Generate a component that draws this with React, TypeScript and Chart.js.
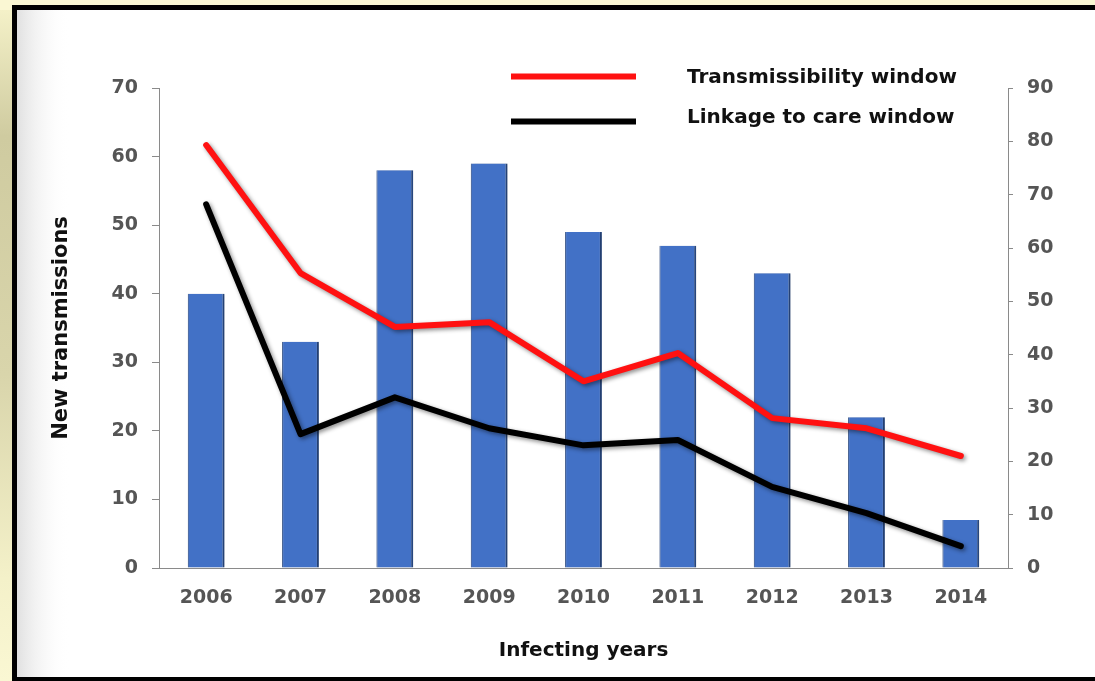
import React, { useEffect, useRef } from 'react';
import { Chart, registerables } from 'chart.js';

Chart.register(...registerables);

// ---- Data ----
const years = ['2006', '2007', '2008', '2009', '2010', '2011', '2012', '2013', '2014'];
const newTransmissions = [40, 33, 58, 59, 49, 47, 43, 22, 7];
const transmissibilityWindow = [79.3, 55.3, 45.2, 46.1, 35, 40.3, 28.1, 26.2, 21];
const linkageToCareWindow = [68.2, 25.1, 32, 26.2, 23, 24, 15.2, 10.3, 4.1];
const leftAxisMax = 70;
const rightAxisMax = 90;
const tickStep = 10;
const seriesLabels = ['Transmissibility window', 'Linkage to care window', 'New transmissions'];
const xTitle = 'Infecting years';
const yTitle = 'New transmissions';

const FONT = "'DejaVu Sans', 'Liberation Sans', Arial, sans-serif";
const TICK_COLOR = '#555555';
const AXIS_COLOR = '#8a8a8a';

const backgroundPlugin = {
  id: 'pageBackground',
  beforeDraw(chart: any) {
    const { ctx, width, height } = chart;
    ctx.save();
    ctx.fillStyle = '#faf7d3';
    ctx.fillRect(0, 0, width, height);
    const g = ctx.createLinearGradient(0, 0, 0, height);
    g.addColorStop(0, '#f7f4cb');
    g.addColorStop(0.2, '#cfcba0');
    g.addColorStop(0.55, '#d9d5ab');
    g.addColorStop(0.85, '#f4f1c9');
    g.addColorStop(1, '#faf7d3');
    ctx.fillStyle = g;
    ctx.fillRect(0, 10, 12, height - 10);
    // black frame
    ctx.fillStyle = '#000';
    ctx.fillRect(12, 5, width - 12, 5);
    ctx.fillRect(12, 5, 5, height - 5);
    ctx.fillRect(12, height - 4, width - 12, 4);
    // white panel
    ctx.fillStyle = '#fff';
    ctx.fillRect(17, 10, width - 17, height - 14);
    const gx = ctx.createLinearGradient(17, 0, 70, 0);
    gx.addColorStop(0, 'rgba(200,200,200,0.55)');
    gx.addColorStop(1, 'rgba(255,255,255,0)');
    ctx.fillStyle = gx;
    ctx.fillRect(17, 10, 53, height - 14);
    ctx.restore();
  },
};

const shadowPlugin = {
  id: 'lineShadow',
  beforeDatasetDraw(chart: any, args: any) {
    const ctx = chart.ctx;
    ctx.save();
    if (args.meta.type === 'line') {
      ctx.shadowColor = 'rgba(0,0,0,0.45)';
      ctx.shadowBlur = 4;
      ctx.shadowOffsetX = 2;
      ctx.shadowOffsetY = 2;
    } else {
      ctx.shadowColor = 'rgba(0,0,0,0.25)';
      ctx.shadowBlur = 3;
      ctx.shadowOffsetX = 1;
      ctx.shadowOffsetY = 0;
    }
  },
  afterDatasetDraw(chart: any) {
    chart.ctx.restore();
  },
};

const legendPlugin = {
  id: 'customLegend',
  afterDraw(chart: any) {
    const { ctx } = chart;
    const entries = chart.data.datasets.filter((d: any) => d.type === 'line');
    ctx.save();
    entries.forEach((ds: any, i: number) => {
      const y = i === 0 ? 76.5 : 121.5;
      const ty = i === 0 ? 78 : 118;
      ctx.strokeStyle = ds.borderColor;
      ctx.lineWidth = 6;
      ctx.lineCap = 'butt';
      ctx.beginPath();
      ctx.moveTo(511, y);
      ctx.lineTo(636, y);
      ctx.stroke();
      ctx.fillStyle = '#111';
      ctx.font = `bold 20px ${FONT}`;
      ctx.textBaseline = 'middle';
      ctx.textAlign = 'left';
      ctx.fillText(ds.label, 687, ty);
    });
    ctx.restore();
  },
};

export default function App() {
  const canvasRef = useRef<HTMLCanvasElement | null>(null);

  useEffect(() => {
    const canvas = canvasRef.current;
    if (!canvas) return;
    const chart = new Chart(canvas, {
      type: 'bar',
      data: {
        labels: years,
        datasets: [
          {
            type: 'line',
            label: seriesLabels[0],
            data: transmissibilityWindow,
            yAxisID: 'y2',
            borderColor: '#ff1111',
            backgroundColor: '#ff1111',
            borderWidth: 6,
            pointRadius: 0,
            tension: 0,
            borderCapStyle: 'round',
            borderJoinStyle: 'round',
            clip: false,
            order: 0,
          } as any,
          {
            type: 'line',
            label: seriesLabels[1],
            data: linkageToCareWindow,
            yAxisID: 'y2',
            borderColor: '#000000',
            backgroundColor: '#000000',
            borderWidth: 6,
            pointRadius: 0,
            tension: 0,
            borderCapStyle: 'round',
            borderJoinStyle: 'round',
            clip: false,
            order: 0,
          } as any,
          {
            type: 'bar',
            label: seriesLabels[2],
            data: newTransmissions,
            yAxisID: 'y',
            backgroundColor: '#4271c6',
            borderColor: '#2a4b86',
            borderWidth: { left: 1, right: 2, top: 0, bottom: 0 },
            borderSkipped: false,
            categoryPercentage: 1,
            barPercentage: 0.39,
            order: 1,
          } as any,
        ],
      },
      options: {
        responsive: false,
        animation: false,
        devicePixelRatio: 1,
        layout: { padding: { top: 88, left: 0, right: 0, bottom: 0 } },
        plugins: {
          legend: { display: false },
          tooltip: { enabled: false },
          title: { display: false },
        },
        scales: {
          x: {
            offset: true,
            grid: { display: false, drawTicks: false },
            border: { display: true, color: AXIS_COLOR, width: 1 },
            ticks: {
              color: TICK_COLOR,
              font: { family: FONT, size: 19, weight: 'bold' },
              padding: 19,
              maxRotation: 0,
            },
            title: {
              display: true,
              text: xTitle,
              color: '#111',
              font: { family: FONT, size: 20, weight: 'bold' },
              padding: { top: 0, bottom: 18 },
            },
            afterFit(scale: any) {
              scale.height = 113;
            },
          },
          y: {
            position: 'left',
            min: 0,
            max: leftAxisMax,
            grid: { drawOnChartArea: false, drawTicks: true, tickLength: 7, color: AXIS_COLOR },
            border: { display: true, color: AXIS_COLOR, width: 1 },
            ticks: {
              stepSize: tickStep,
              color: TICK_COLOR,
              font: { family: FONT, size: 19, weight: 'bold' },
              padding: 14,
            },
            title: {
              display: true,
              text: yTitle,
              color: '#111',
              font: { family: FONT, size: 21, weight: 'bold' },
              padding: { top: 49, bottom: 0 },
            },
            afterFit(scale: any) {
              scale.width = 159;
            },
          },
          y2: {
            position: 'right',
            min: 0,
            max: rightAxisMax,
            grid: { drawOnChartArea: false, drawTicks: true, tickLength: 5, color: AXIS_COLOR },
            border: { display: true, color: AXIS_COLOR, width: 1 },
            ticks: {
              stepSize: tickStep,
              color: TICK_COLOR,
              font: { family: FONT, size: 19, weight: 'bold' },
              padding: 14,
            },
            afterFit(scale: any) {
              scale.width = 87;
            },
          },
        },
      } as any,
      plugins: [backgroundPlugin, shadowPlugin, legendPlugin],
    });
    return () => chart.destroy();
  }, []);

  return (
    <div style={{ position: 'absolute', left: 0, top: 0, width: 1095, height: 681 }}>
      <canvas ref={canvasRef} width={1095} height={681} style={{ display: 'block' }} />
    </div>
  );
}
